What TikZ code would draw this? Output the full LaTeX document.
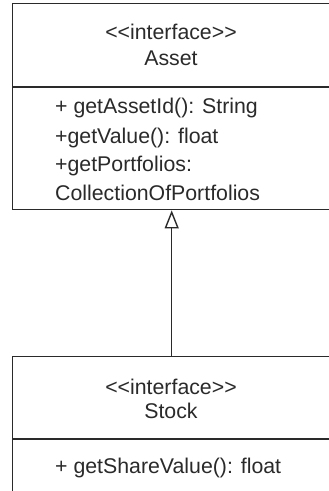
\documentclass[tikz,border=0pt]{standalone}
\usepackage{fontspec}
\setmainfont{Liberation Sans}
\usetikzlibrary{arrows.meta}
\definecolor{ink}{HTML}{2A2A2A}
\tikzset{
  umlbox/.style={draw=ink, line width=1.4pt, anchor=north west, inner sep=0pt, minimum width=318pt},
  sep/.style={draw=ink, line width=1.4pt},
  title/.style={anchor=base, inner sep=0pt, text=ink, font=\fontsize{21.3}{25}\selectfont},
  member/.style={anchor=base west, inner sep=0pt, text=ink, font=\fontsize{21.3}{25}\selectfont},
  realize/.style={draw=ink, line width=1.4pt, -{Triangle[open, width=14pt, length=18pt, fill=white]}}
}
\begin{document}
\begin{tikzpicture}[x=1pt, y=-1pt]
\useasboundingbox (0,0) rectangle (329,491);
\clip (0,0) rectangle (329,491);
\fill[white] (0,0) rectangle (329,491);
% Asset box
\node[umlbox, minimum height=206pt] (asset) at (12,3) {};
\coordinate (asl) at (12,87);
\coordinate (asr) at (330,87);
\draw[sep] (asl) -- (asr);
\node[title] (at1) at (171,39.5) {<{}<interface>{}>};
\node[title] (at2) at (171,65) {Asset};
\node[member] (am1) at (55,113) {+ getAssetId(): String};
\node[member] (am2) at (55,143) {+getValue(): float};
\node[member] (am3) at (55,171.5) {+getPortfolios:};
\node[member] (am4) at (55,200) {CollectionOfPortfolios};
% Stock box
\node[umlbox, minimum height=200pt] (stock) at (12,356) {};
\coordinate (ssl) at (12,439);
\coordinate (ssr) at (330,439);
\draw[sep] (ssl) -- (ssr);
\node[title] (st1) at (171,394) {<{}<interface>{}>};
\node[title] (st2) at (171,418) {Stock};
\node[member] (sm1) at (55,473) {+ getShareValue(): float};
% realization
\draw[realize] (stock.north) -- (asset.south);
\end{tikzpicture}
\end{document}
